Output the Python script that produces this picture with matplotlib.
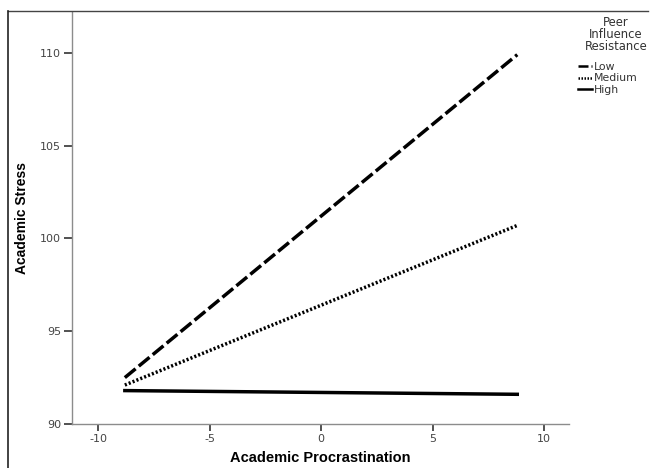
import matplotlib
matplotlib.use("Agg")
import matplotlib.pyplot as plt
from matplotlib.lines import Line2D

plt.rcParams['font.family'] = ['Liberation Sans', 'DejaVu Sans']
plt.rcParams['axes.unicode_minus'] = False

# Data
x_vals = [-8.8, 8.8]
series_names = ["Low", "Medium", "High"]
low_vals = [92.5, 109.9]
medium_vals = [92.1, 100.7]
high_vals = [91.8, 91.6]
x_ticks = [-10, -5, 0, 5, 10]
y_ticks = [90, 95, 100, 105, 110]
legend_title = "Peer\nInfluence\nResistance"

fig = plt.figure(figsize=(6.54, 4.68), dpi=100)
ax = fig.add_axes([72/654, 1-424/468, (569-72)/654, (424-12)/468])

ax.plot(x_vals, low_vals, color='black', lw=2.5, linestyle=(0, (4.0, 1.2)), label=series_names[0], solid_capstyle='butt')
ax.plot(x_vals, medium_vals, color='black', lw=2.5, linestyle=(0, (0.6, 0.6)), label=series_names[1])
ax.plot(x_vals, high_vals, color='black', lw=2.5, linestyle='-', label=series_names[2])

ax.set_xlim(-11.17, 11.12)
ax.set_ylim(90, 112.2)
ax.set_xticks(x_ticks)
ax.set_yticks(y_ticks)
for s in ['top', 'right']:
    ax.spines[s].set_visible(False)
for s in ['left', 'bottom']:
    ax.spines[s].set_color('#8c8c8c')
    ax.spines[s].set_linewidth(1.0)
ax.tick_params(axis='both', direction='out', length=5, width=1.2, color='#333333',
               labelsize=8, labelcolor='#444444', pad=2)
ax.tick_params(axis='y', length=6)
for lab in ax.get_xticklabels() + ax.get_yticklabels():
    lab.set_fontfamily('DejaVu Sans')

ax.set_xlabel("Academic Procrastination", fontsize=10.5, fontweight='bold', labelpad=5)
ax.set_ylabel("Academic Stress", fontsize=10, fontweight='bold')
ax.yaxis.set_label_coords(-0.086, 0.5)

# Legend title as separate text
fig.text(616/654, 1-16/468, legend_title, ha='center', va='top', multialignment='center',
         family='DejaVu Sans', fontsize=8.4, color='#333333', linespacing=0.9)

leg = fig.legend(loc='upper left', bbox_to_anchor=(578/654, 1-62/468), frameon=False,
                 prop={'family': 'DejaVu Sans', 'size': 7.8},
                 handlelength=1.3, handletextpad=0.15, labelspacing=0.12, borderpad=0.0,
                 borderaxespad=0.0)
for t in leg.get_texts():
    t.set_color('#333333')
for h in leg.legend_handles:
    h.set_linewidth(1.8)

# Outer frame (top and left edges)
fig.add_artist(Line2D([8/654, 648/654], [1-11/468, 1-11/468], transform=fig.transFigure, color='#444444', lw=1.0))
fig.add_artist(Line2D([8/654, 8/654], [1-11/468, 0], transform=fig.transFigure, color='#222222', lw=1.2))

fig.savefig("out.png", dpi=100)
